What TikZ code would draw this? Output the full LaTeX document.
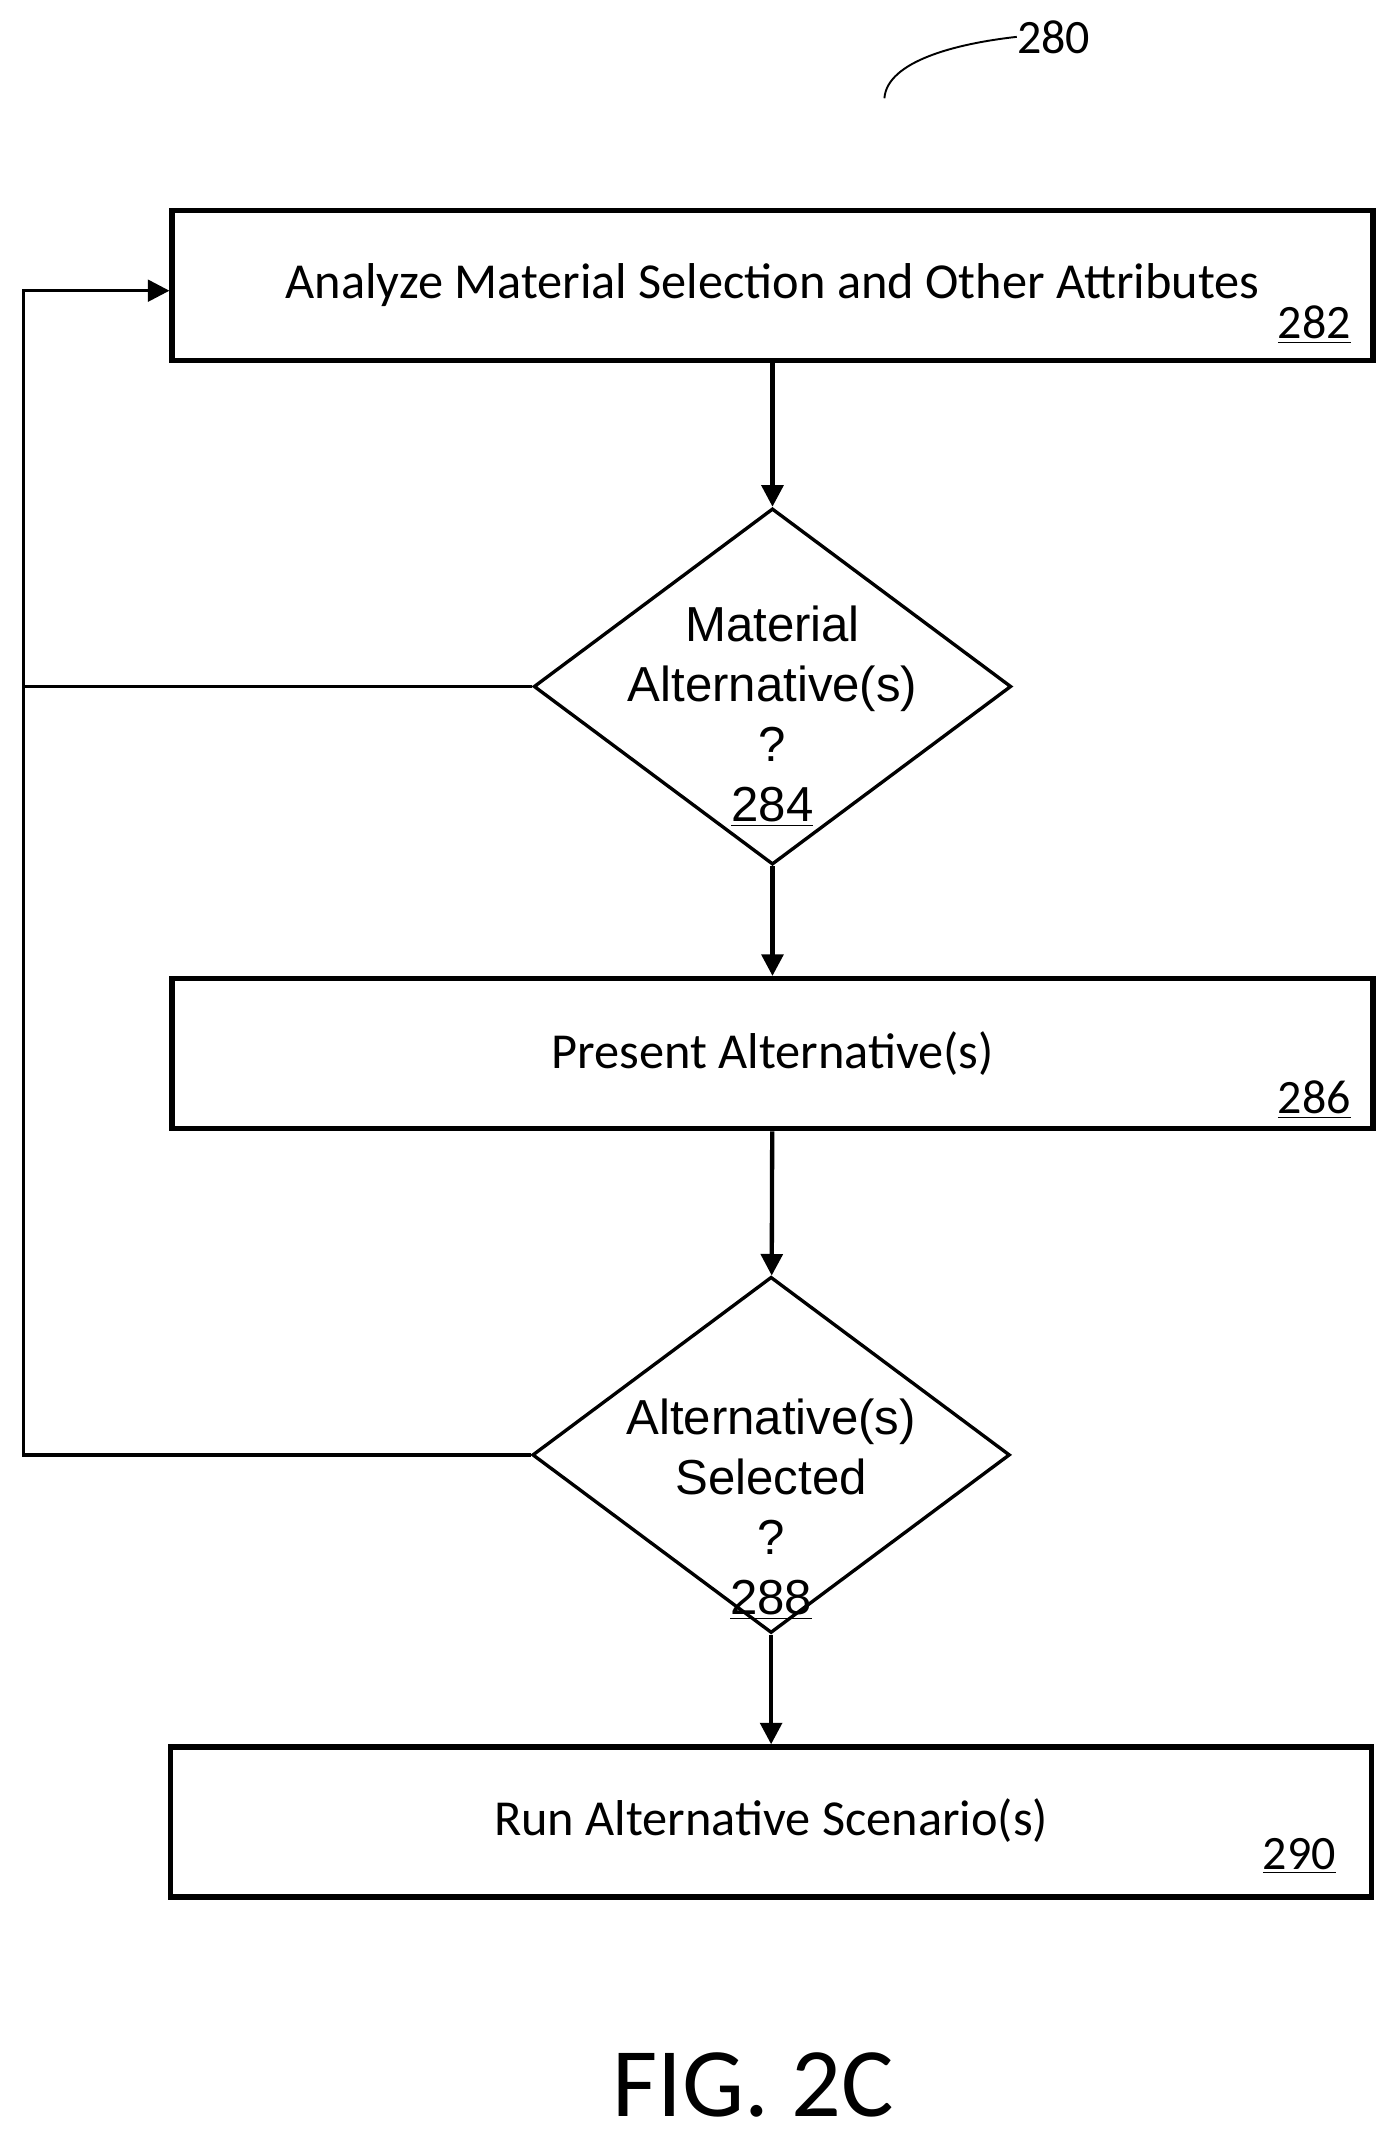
\documentclass[tikz,border=0pt]{standalone}
\usepackage{fontspec}
\setmainfont{Carlito}
\newfontfamily\arialfont{Liberation Sans}
\usetikzlibrary{shapes.geometric,arrows.meta}

\begin{document}
\begin{tikzpicture}[
		x=0.02cm, y=-0.02cm,
		every node/.style={inner sep=0pt},
		stepbox/.style={draw, line width=2.2pt, minimum width=17.6cm, minimum height=2.2cm},
		decision/.style={draw, diamond, line width=1.4pt, minimum width=7cm, minimum height=5.22cm},
		steptext/.style={font=\fontsize{21}{24}\selectfont},
		decisiontext/.style={font=\arialfont\fontsize{20.5}{25}\selectfont, align=center},
		reflabel/.style={font=\fontsize{20}{22}\selectfont},
		flow/.style={line width=1.8pt, -{Triangle[length=9pt,width=9pt]}}
	]
  \useasboundingbox (0,0) rectangle (1024,1568);
  % boxes and decisions
  \node (analyze) [stepbox] at (566,209) {};
  \node (analyze_text) [steptext] at (566,209) {Analyze Material Selection and Other Attributes};
  \node (analyze_num) [reflabel] at (963,238) {\underline{282}};
  \node (altq) [decision] at (566,503) {};
  \node (altq_text) [decisiontext] at (566,525)
    {Material\\Alternative(s)\\?\\\underline{284}};
  \node (present) [stepbox] at (566,772) {};
  \node (present_text) [steptext] at (566,772) {Present Alternative(s)};
  \node (present_num) [reflabel] at (963,806) {\underline{286}};
  \node (selq) [decision] at (565,1066) {};
  \node (selq_text) [decisiontext] at (565,1106)
    {Alternative(s)\\Selected\\?\\\underline{288}};
  \node (run) [stepbox] at (565,1335) {};
  \node (run_text) [steptext] at (565,1334) {Run Alternative Scenario(s)};
  \node (run_num) [reflabel] at (952,1360) {\underline{290}};
  % figure labels
  \node (fig_ref) [reflabel, anchor=west] at (745,27) {280};
  \coordinate (fig_ref_tail) at (648,72);
  \draw [line width=0.8pt] (fig_ref_tail) .. controls (650,45) and (700,32) .. (fig_ref.west);
  \node (fig) [font=\fontsize{41}{46}\selectfont] at (552,1528) {FIG. 2C};
  % connectors
  \draw [flow] (analyze) -- (altq);
  \draw [flow] (altq) -- (present);
  \draw [flow] (present) -- (selq);
  \draw [flow] (selq) -- (run);
  \coordinate (loop_top) at (17,213);
  \draw [flow, line width=1.4pt] (altq.west) -| (loop_top) -- (analyze.west |- loop_top);
  \draw [line width=1.4pt] (selq.west) -| (altq.west -| loop_top);
\end{tikzpicture}
\end{document}
